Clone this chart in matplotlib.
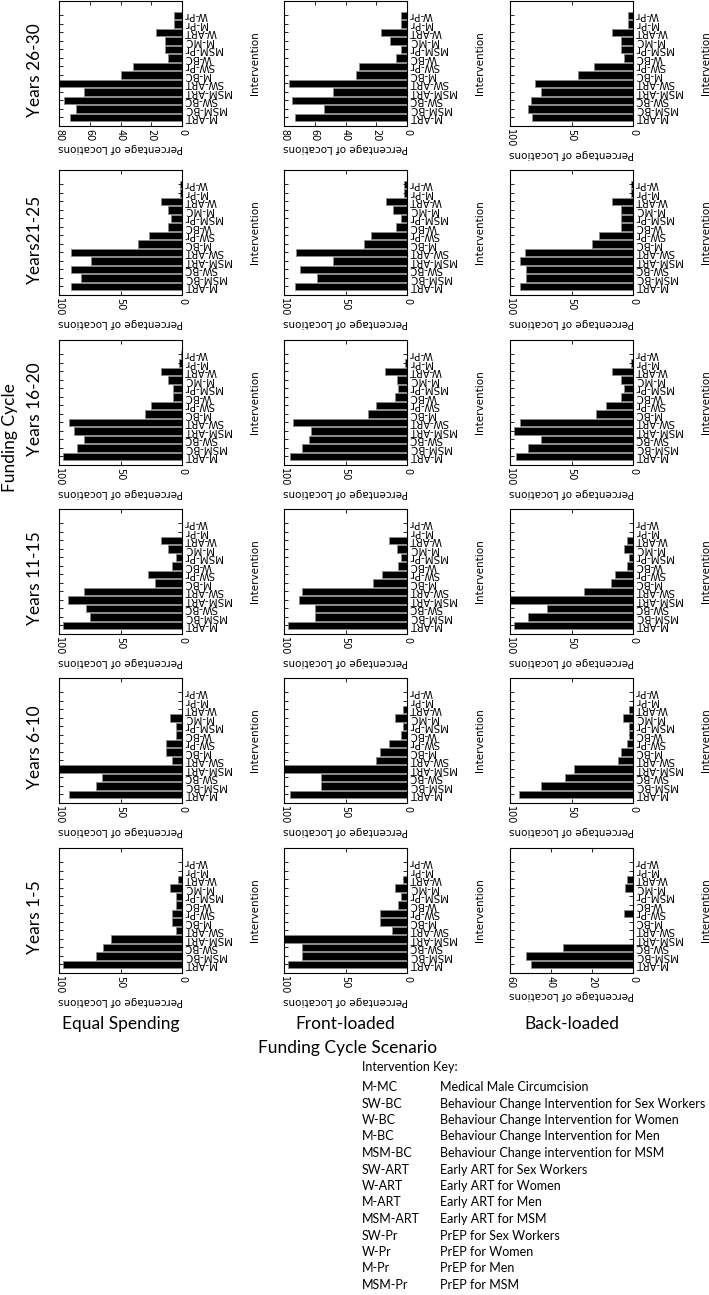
import numpy as np
import matplotlib
matplotlib.use('Agg')
import matplotlib.pyplot as plt

# categories from bottom to top of each panel
categories = ['M-ART', 'MSM-BC', 'SW-BC', 'MSM-ART', 'SW-ART', 'M-BC', 'SW-Pr',
              'W-BC', 'MSM-Pr', 'M-MC', 'W-ART', 'M-Pr', 'W-Pr']
cycles = ['Years 26-30', 'Years21-25', 'Years 16-20', 'Years 11-15', 'Years 6-10', 'Years 1-5']
scenarios = ['Equal Spending', 'Front-loaded', 'Back-loaded']

# percentage of locations, one row per funding cycle (26-30 first)
equal_spending = [
    [73, 69, 77, 64, 80, 40, 32, 9, 11, 11, 17, 5, 5],
    [90, 82, 90, 74, 90, 36, 27, 11, 9, 11, 17, 2, 2],
    [97, 85, 80, 88, 92, 30, 25, 7, 7, 11, 17, 2.5, 0.5],
    [97, 75, 78, 93, 80, 22, 28, 8, 5, 11, 17, 0, 0],
    [92, 70, 65, 100, 8, 13, 13, 5, 5, 10, 0, 0, 0],
    [97, 70, 64, 58, 5, 8, 8, 5, 5, 10, 3, 0, 0],
]
front_loaded = [
    [73, 54, 75, 48, 77, 33, 31, 7, 4, 11, 17, 4, 4],
    [91, 73, 87, 60, 90, 35, 29, 9, 5, 11, 17, 2.5, 2.5],
    [95, 85, 80, 78, 93, 32, 25, 10, 7, 8, 18, 2, 0],
    [97, 75, 75, 88, 85, 28, 20, 7, 5, 8, 15, 0, 0],
    [95, 70, 70, 100, 25, 22, 15, 5, 3, 10, 3, 0, 0],
    [97, 85, 85, 100, 12, 22, 22, 7, 5, 10, 3, 0, 0],
]
back_loaded = [
    [82, 85, 83, 75, 80, 45, 32, 7, 10, 10, 17, 4, 4],
    [92, 87, 87, 92, 88, 33, 28, 10, 10, 10, 17, 2, 2],
    [95, 85, 75, 97, 92, 30, 22, 10, 7, 10, 17, 2, 0],
    [97, 85, 70, 100, 40, 18, 15, 5, 3, 7, 5, 0, 0],
    [93, 75, 55, 48, 12, 10, 5, 3, 3, 8, 3, 0, 0],
    [50, 52, 34, 0, 0, 0, 4.4, 0, 0, 4, 2.8, 0, 0],
]

# x axis maximum for each panel
axis_max = [
    [80, 80, 100],
    [100, 100, 100],
    [100, 100, 100],
    [100, 100, 100],
    [100, 100, 100],
    [100, 100, 60],
]

key_codes = ['M-MC', 'SW-BC', 'W-BC', 'M-BC', 'MSM-BC', 'SW-ART', 'W-ART',
             'M-ART', 'MSM-ART', 'SW-Pr', 'W-Pr', 'M-Pr', 'MSM-Pr']
key_names = ['Medical Male Circumcision',
             'Behaviour Change Intervention for Sex Workers',
             'Behaviour Change Intervention for Women',
             'Behaviour Change Intervention for Men',
             'Behaviour Change intervention for MSM',
             'Early ART for Sex Workers',
             'Early ART for Women',
             'Early ART for Men',
             'Early ART for MSM',
             'PrEP for Sex Workers',
             'PrEP for Women',
             'PrEP for Men',
             'PrEP for MSM']

W, H = 709, 1295
fig = plt.figure(figsize=(W / 100, H / 100), dpi=100)

col_left = [59, 284, 510]
row_top = [1, 170, 340, 509, 678, 848]
pw, ph = 123, 125

panel_font = 'DejaVu Sans'
title_font = 'Lato'

data = [equal_spending, front_loaded, back_loaded]
y = np.arange(len(categories))

for c in range(3):
    for r in range(6):
        left, top = col_left[c], row_top[r]
        ax = fig.add_axes([left / W, 1 - (top + ph) / H, pw / W, ph / H])
        ax.barh(y, data[c][r], height=0.9, color='black', edgecolor='#8a8a8a', linewidth=0.6)
        xmax = axis_max[r][c]
        ax.set_xlim(xmax, 0)
        ax.set_ylim(-1, 13.7)
        step = 50 if xmax == 100 else 20
        ticks = np.arange(0, xmax + 1, step)
        ax.set_xticks(ticks)
        ax.set_xticklabels([str(int(t)) for t in ticks], rotation=270,
                           fontsize=7, family=panel_font)
        ax.set_yticks(y)
        ax.set_yticklabels(categories, rotation=180, fontsize=7.4, family=panel_font,
                           va='center')
        ax.tick_params(axis='y', left=True, right=True, labelleft=False, labelright=True,
                       direction='in', length=3, width=0.6, pad=1.5)
        ax.tick_params(axis='x', top=True, bottom=True, direction='in', length=3,
                       width=0.6, pad=2.5)
        for s in ax.spines.values():
            s.set_linewidth(0.8)
        ax.set_xlabel('Percentage of Locations', rotation=180, fontsize=7.5,
                      family=panel_font, labelpad=1)
        ax.text(1.593, 0.5, 'Intervention', rotation=90, ha='center', va='center',
                fontsize=7.5, family=panel_font, transform=ax.transAxes)

# row labels
for r in range(6):
    yc = row_top[r] + ph / 2 + 7
    fig.text(35 / W, 1 - yc / H, cycles[r], rotation=90, ha='center', va='center',
             fontsize=12.5, family=title_font)
fig.text(10 / W, 1 - 438 / H, 'Funding Cycle', rotation=90, ha='center', va='center',
         fontsize=12.5, family=title_font)

# column labels
for c in range(3):
    xc = col_left[c] + pw / 2
    fig.text(xc / W, 1 - 1024 / H, scenarios[c], ha='center', va='center',
             fontsize=12.5, family=title_font)
fig.text(348 / W, 1 - 1048 / H, 'Funding Cycle Scenario', ha='center', va='center',
         fontsize=12.5, family=title_font)

# intervention key
fig.text(362 / W, 1 - 1067 / H, 'Intervention Key:', ha='left', va='center',
         fontsize=9, family=title_font)
for i in range(len(key_codes)):
    yk = 1087 + i * 16.5
    fig.text(362 / W, 1 - yk / H, key_codes[i], ha='left', va='center',
             fontsize=9, family=title_font)
    fig.text(440 / W, 1 - yk / H, key_names[i], ha='left', va='center',
             fontsize=9, family=title_font)

fig.savefig('out.png', dpi=100)
